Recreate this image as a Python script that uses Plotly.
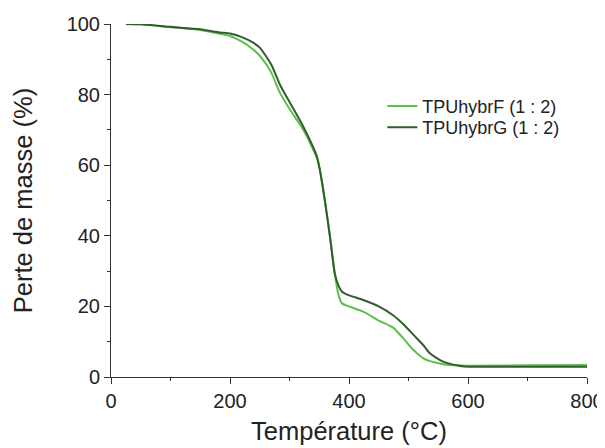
import plotly.graph_objects as go

temp = [25, 50, 100, 150, 183, 200, 220, 239, 250, 262, 270, 284, 301, 323, 346, 351, 360, 368, 376, 382, 388, 395, 424, 450, 474, 491, 508, 525, 536, 553, 564, 587, 603, 700, 800]
mass_F = [100, 99.9, 99.1, 98.3, 97.2, 96.6, 95.0, 92.8, 91.0, 88.3, 86.0, 80.5, 75.7, 70.1, 62.0, 58.7, 49.3, 39.8, 29.4, 23.5, 20.9, 20.3, 18.5, 16.0, 14.0, 11.0, 7.7, 5.3, 4.5, 3.8, 3.5, 3.3, 3.2, 3.3, 3.4]
mass_G = [100, 99.9, 99.2, 98.5, 97.6, 97.3, 96.3, 94.7, 93.3, 90.5, 88.3, 82.8, 77.6, 71.0, 62.5, 58.7, 49.3, 39.8, 29.4, 26.0, 24.2, 23.5, 21.8, 20.0, 17.5, 15.0, 12.0, 9.0, 6.7, 4.8, 4.0, 3.1, 2.9, 2.9, 2.9]

names = ["TPUhybrF (1 : 2)", "TPUhybrG (1 : 2)"]
colors = ["#5DBE4B", "#2F5E2B"]
legends = ["legend", "legend2"]

fig = go.Figure()
for y, n, c, lg in zip([mass_F, mass_G], names, colors, legends):
    fig.add_trace(go.Scatter(x=temp, y=y, name=n, mode="lines", legend=lg,
                             line=dict(color=c, width=2, shape="spline", smoothing=0.6)))

font = "Liberation Sans, Arial, sans-serif"
leg_common = dict(xanchor="left", yanchor="top", font=dict(size=18, family=font, color="#222"),
                  bgcolor="rgba(0,0,0,0)", itemwidth=30)
fig.update_layout(
    width=605, height=448,
    margin=dict(l=103, r=26, t=16, b=79),
    plot_bgcolor="white", paper_bgcolor="white",
    font=dict(family=font, color="#222", size=20),
    showlegend=True,
    legend=dict(x=0.570, y=0.819, **leg_common),
    legend2=dict(x=0.570, y=0.759, **leg_common),
    xaxis=dict(range=[0, 800], tickvals=[0, 200, 400, 600, 800], automargin=False,
               showline=True, linecolor="#333", linewidth=1,
               ticks="outside", ticklen=6, tickcolor="#333",
               minor=dict(tickvals=[100, 300, 500, 700], ticks="outside", ticklen=3, tickcolor="#333"),
               showgrid=False, zeroline=False,
               title=dict(text="Température (°C)", font=dict(size=25.5), standoff=11)),
    yaxis=dict(range=[0, 100], tickvals=[0, 20, 40, 60, 80, 100], automargin=False,
               showline=True, linecolor="#333", linewidth=1,
               ticks="outside", ticklen=6, tickcolor="#333",
               minor=dict(tickvals=[10, 30, 50, 70, 90], ticks="outside", ticklen=3, tickcolor="#333"),
               showgrid=False, zeroline=False,
               title=dict(text="Perte de masse (%)", font=dict(size=25.5), standoff=26)),
)
fig.write_html("out.html")
